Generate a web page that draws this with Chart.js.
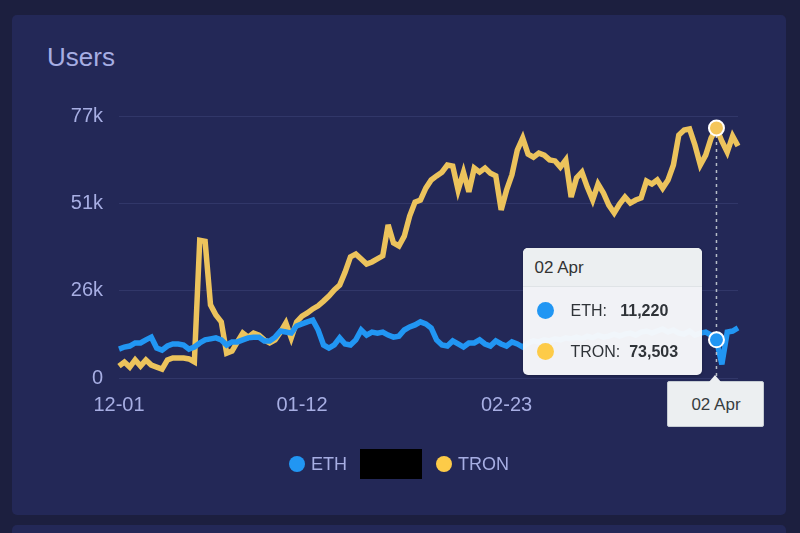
<!DOCTYPE html>
<html>
<head>
<meta charset="utf-8">
<script src="https://cdn.jsdelivr.net/npm/chart.js@4.4.1/dist/chart.umd.min.js"></script>
<style>
  html, body { margin:0; padding:0; background:#1c1f3f; width:800px; height:533px; overflow:hidden; font-family:"Liberation Sans", Arial, sans-serif; }
  .card { position:absolute; left:12px; top:15px; width:774px; height:500px; background:#232857; border-radius:5px; }
  .card2 { position:absolute; left:12px; top:525px; width:774px; height:60px; background:#232857; border-radius:5px; }
  .title { position:absolute; left:47px; top:44px; font-size:26px; line-height:26px; color:#a7aee3; }
  #wrap { position:absolute; left:0; top:0; width:800px; height:533px; }
  .legend { position:absolute; top:454px; height:20px; font-size:18px; line-height:20px; color:#a7aee3; }
  .dot { position:absolute; width:16px; height:16px; border-radius:50%; top:2px; }
  .tip { position:absolute; width:179px; height:127px; background:rgba(248,249,251,0.97); border-radius:5px; box-shadow:0 1px 3px rgba(0,0,0,0.25); font-size:16px; color:#2f3338; overflow:hidden; }
  .tip .hd { height:38px; line-height:40px; padding-left:11px; background:#eceff1; border-bottom:1px solid #dfe3e6; font-size:17px; color:#333; }
  .tip .row { position:absolute; left:0; height:20px; line-height:20px; }
  .tip .row .c { position:absolute; left:14px; top:1px; width:17px; height:17px; border-radius:50%; }
  .tip .row .n { position:absolute; left:47px; white-space:nowrap; }
  .tip .row b { font-weight:bold; }
  .xtip { position:absolute; width:95px; height:44px; background:#eceff1; border:1px solid #c5ccd3; border-radius:2px; text-align:center; line-height:46px; font-size:17px; color:#373d3f; }
  .xtip:before { content:""; position:absolute; left:41px; top:-7px; border-left:6px solid transparent; border-right:6px solid transparent; border-bottom:7px solid #eceff1; }
</style>
</head>
<body>
<div class="card"></div>
<div class="card2"></div>
<div class="title">Users</div>
<div id="wrap"><canvas id="c" width="800" height="533"></canvas></div>
<div class="legend" style="left:289px;"><span class="dot" style="left:0;background:#2196f3;"></span><span style="position:absolute;left:22px;">ETH</span></div>
<div style="position:absolute;left:360px;top:449px;width:62px;height:30px;background:#000;"></div>
<div class="legend" style="left:436px;"><span class="dot" style="left:0;background:#fdcb48;"></span><span style="position:absolute;left:22px;">TRON</span></div>
<div class="tip" id="tip">
  <div class="hd" id="tipTitle"></div>
  <div class="row" style="top:53px;"><span class="c" style="background:#2196f3;"></span><span class="n" id="tipEth"></span></div>
  <div class="row" style="top:94px;"><span class="c" style="background:#fdcb48;"></span><span class="n" id="tipTron"></span></div>
</div>
<div class="xtip" id="xtip"></div>
<script>
const categories = [
 "12-01","12-02","12-03","12-04","12-05","12-06","12-07","12-08","12-09","12-10","12-11","12-12","12-13","12-14","12-15","12-16","12-17","12-18","12-19","12-20","12-21","12-22",
 "12-27","12-28","12-29",
 "01-03","01-04","01-05","01-06","01-07","01-08","01-09","01-10","01-11","01-12",
 "01-13","01-14","01-15","01-16","01-17","01-18","01-19",
 "01-22","01-23","01-24","01-25","01-26","01-27","01-28","01-29","01-30","01-31",
 "02-01","02-02","02-03","02-04","02-05","02-06","02-07","02-08","02-09",
 "02-12","02-13","02-14","02-15","02-16","02-17","02-18","02-19","02-20","02-21","02-22","02-23",
 "02-24","02-25","02-26","02-27","02-28","02-29",
 "03-01","03-02","03-03","03-04","03-05","03-06","03-07","03-08","03-09","03-10","03-11","03-12","03-13","03-14","03-15","03-16",
 "03-17","03-18","03-19","03-20","03-21","03-22","03-23","03-24","03-25","03-26","03-27","03-28","03-29","03-30","03-31",
 "04-01","04-02","04-03","04-04","04-05","04-06"
];
const tickDates = ["12-01","01-12","02-23"];
const monthNames = ["Jan","Feb","Mar","Apr","May","Jun","Jul","Aug","Sep","Oct","Nov","Dec"];

const ethUsers = [
 8500,9100,9400,10300,10300,11200,12000,8800,8200,9400,10000,10000,9700,8500,9100,10300,11200,11500,11800,11200,
 9700,10600,10600,11200,11800,12000,12000,10900,10900,12000,13800,13500,13200,15300,15900,16500,17000,14100,9700,8800,
 9700,11800,10000,9700,11200,14100,12600,13500,13200,13500,12600,12000,12300,14100,15000,15600,16500,15900,14700,11200,
 9700,9400,10900,10000,9100,10300,10300,11200,10000,9400,10900,10000,9400,10600,10000,9100,10300,10900,10600,11200,
 10900,11500,11200,11800,11500,12000,11500,12300,11800,12600,12000,12300,12900,12300,12900,13200,12600,13500,13800,13200,
 13800,14400,13500,14100,13200,12900,13800,12600,13200,13500,12600,11220,4000,13500,13800,14700
];
const tronUsers = [
 3500,4700,3200,5300,3500,5300,3800,3200,2600,5300,5900,5900,5900,5600,4700,40500,40200,21500,18500,16500,
 7300,7900,10600,13200,12000,13200,12600,11200,10300,11200,13500,16200,11800,16500,18200,19100,20300,21200,22600,24100,
 25900,27300,31100,35600,36400,35000,33500,34100,35000,35900,45000,39700,38800,41700,47600,51700,52300,55800,58200,59400,
 60500,62600,62300,55200,60500,54700,61700,60500,61700,60200,59400,49400,55200,59700,67000,70500,65800,64900,66100,65500,
 64100,63800,62000,64100,53200,58800,60500,56100,52300,57000,54400,50800,48500,51100,53200,51400,52300,52900,57900,57000,
 58200,55800,58200,62600,71400,72900,73200,68500,62600,65500,70500,73503,69600,66400,71100,68200
];
const yTickMax = 77000;
const hoverDate = "04-02";

const ETH_C = '#2196f3', TRON_C = '#ecc35c';
const hoverIndex = categories.indexOf(hoverDate);

const hoverPlugin = {
  id: 'hover',
  beforeDatasetsDraw(chart) { chart.ctx.save(); chart.ctx.miterLimit = 4; },
  afterDatasetsDraw(chart) {
    const ctx = chart.ctx;
    ctx.restore();
    const mT = chart.getDatasetMeta(1).data[hoverIndex];
    const mE = chart.getDatasetMeta(0).data[hoverIndex];
    const x = mT.x;
    ctx.save();
    ctx.strokeStyle = '#b6bdc8';
    ctx.lineWidth = 1.5;
    ctx.setLineDash([3, 4]);
    ctx.beginPath();
    ctx.moveTo(x, mT.y);
    ctx.lineTo(x, chart.chartArea.bottom);
    ctx.stroke();
    ctx.setLineDash([]);
    [[mT, '#f5c65a'], [mE, '#2196f3']].forEach(([p, col]) => {
      ctx.beginPath();
      ctx.arc(p.x, p.y, 7.5, 0, Math.PI * 2);
      ctx.fillStyle = col;
      ctx.fill();
      ctx.lineWidth = 2;
      ctx.strokeStyle = '#ffffff';
      ctx.stroke();
    });
    ctx.restore();
  }
};

const chart = new Chart(document.getElementById('c'), {
  type: 'line',
  data: {
    labels: categories,
    datasets: [
      { label: 'ETH', data: ethUsers, borderColor: ETH_C, backgroundColor: ETH_C, borderWidth: 5.5, pointRadius: 0, tension: 0 },
      { label: 'TRON', data: tronUsers, borderColor: TRON_C, backgroundColor: TRON_C, borderWidth: 5.5, pointRadius: 0, tension: 0 }
    ]
  },
  options: {
    responsive: false,
    animation: false,
    events: [],
    layout: { padding: { left: 0, right: 62, top: 116, bottom: 0 } },
    plugins: { legend: { display: false }, tooltip: { enabled: false } },
    scales: {
      x: {
        grid: { display: false, drawTicks: false },
        border: { display: false },
        afterFit: (s) => { s.height = 155; },
        ticks: {
          autoSkip: false, maxRotation: 0, minRotation: 0, padding: 15,
          color: '#a7aee3', font: { family: 'Liberation Sans', size: 20 },
          callback: function(v, i) { const l = this.getLabelForValue(v); return tickDates.includes(l) ? l : ''; }
        }
      },
      y: {
        min: 0, max: yTickMax,
        grid: { color: 'rgba(150,160,230,0.13)', lineWidth: 1, drawTicks: false },
        border: { display: false },
        afterFit: (s) => { s.width = 119; },
        ticks: {
          count: 4, padding: 16,
          color: '#a7aee3', font: { family: 'Liberation Sans', size: 20 },
          callback: (v) => v === 0 ? '0' : Math.round(v / 1000) + 'k'
        }
      }
    }
  },
  plugins: [hoverPlugin]
});

// HTML tooltips positioned from the library's computed element positions
(function placeTips() {
  const pT = chart.getDatasetMeta(1).data[hoverIndex];
  const lab = categories[hoverIndex].split('-');
  const title = lab[1] + ' ' + monthNames[parseInt(lab[0], 10) - 1];
  const fmt = (n) => n.toLocaleString('en-US');
  document.getElementById('tipTitle').textContent = title;
  document.getElementById('tipEth').innerHTML = 'ETH:&nbsp;&nbsp; <b>' + fmt(ethUsers[hoverIndex]) + '</b>';
  document.getElementById('tipTron').innerHTML = 'TRON:&nbsp; <b>' + fmt(tronUsers[hoverIndex]) + '</b>';
  const tip = document.getElementById('tip');
  tip.style.left = (pT.x - 14 - 179) + 'px';
  tip.style.top = (chart.chartArea.top + 132) + 'px';
  const xt = document.getElementById('xtip');
  xt.textContent = title;
  xt.style.left = (pT.x - 49) + 'px';
  xt.style.top = (chart.chartArea.bottom + 3) + 'px';
})();
</script>
</body>
</html>
